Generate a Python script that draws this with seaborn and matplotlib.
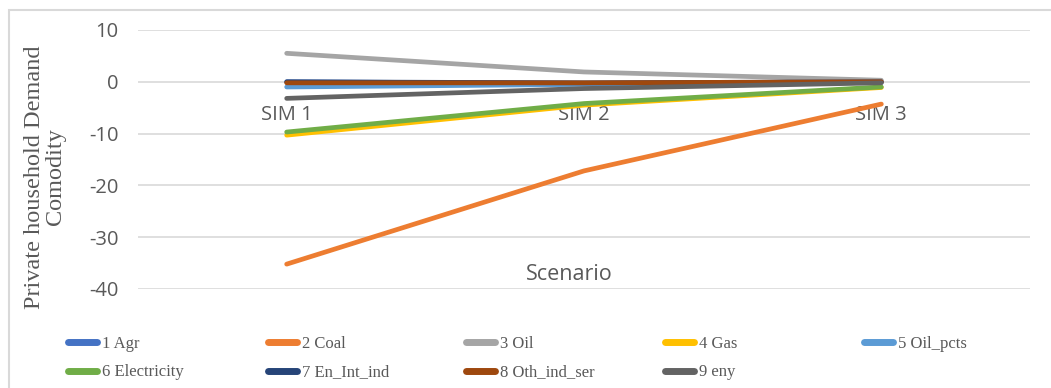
import matplotlib
matplotlib.use("Agg")
import matplotlib.pyplot as plt
from matplotlib.patches import Rectangle
import seaborn as sns
import pandas as pd

scenarios = ["SIM 1", "SIM 2", "SIM 3"]
sectors = ["1 Agr", "2 Coal", "3 Oil", "4 Gas", "5 Oil_pcts",
           "6 Electricity", "7 En_Int_ind", "8 Oth_ind_ser", "9 eny"]
agr = [0.0, -0.3, 0.0]
coal = [-35.2, -17.2, -4.3]
oil = [5.5, 1.9, 0.3]
gas = [-10.3, -4.5, -1.1]
oil_pcts = [-1.0, -0.5, -0.1]
electricity = [-9.7, -4.2, -1.0]
en_int_ind = [0.0, -0.2, 0.0]
oth_ind_ser = [-0.2, -0.2, 0.0]
eny = [-3.2, -1.3, -0.2]
values = [agr, coal, oil, gas, oil_pcts, electricity, en_int_ind, oth_ind_ser, eny]
colors = ["#4472C4", "#ED7D31", "#A5A5A5", "#FFC000", "#5B9BD5",
          "#70AD47", "#264478", "#9E480E", "#636363"]

df = pd.DataFrame(
    [(s, sc, v) for s, vals in zip(sectors, values) for sc, v in zip(scenarios, vals)],
    columns=["sector", "scenario", "value"],
)

sns.set_style("white")
plt.rcParams["axes.unicode_minus"] = False
fig = plt.figure(figsize=(10.51, 3.88), dpi=100)
ax = fig.add_axes([138 / 1051, 1 - 289 / 388, (1030 - 138) / 1051, (289 - 30) / 388])

sns.lineplot(data=df, x="scenario", y="value", hue="sector", hue_order=sectors,
             palette=colors, linewidth=3.4, sort=False, ax=ax, legend=True)

ax.set_xlim(-0.5, 2.5)
ax.set_ylim(-40, 10)
ax.set_yticks(range(-40, 11, 10))
ax.yaxis.grid(True, color="#d9d9d9", linewidth=1.2)
ax.set_axisbelow(True)
for sp in ax.spines.values():
    sp.set_visible(False)
ax.spines["bottom"].set_position(("data", 0))
ax.tick_params(axis="both", length=0, labelcolor="#595959", labelsize=14.5)
ax.tick_params(axis="x", pad=17)
ax.tick_params(axis="y", pad=14)
for t in ax.get_xticklabels() + ax.get_yticklabels():
    t.set_family("Open Sans")
ax.set_xlabel("")
ax.set_ylabel("")

ax.text(0.95, -39.2, "Scenario", ha="center", va="bottom", fontsize=15.5,
        color="#595959", family="Open Sans")
fig.text(45 / 1051, 1 - 177 / 388, "Private household Demand\nComodity",
         rotation=90, ha="center", va="center", fontsize=17.5,
         color="#595959", family="Liberation Serif", linespacing=1.0)

handles, labels = ax.get_legend_handles_labels()
ax.get_legend().remove()
col_x = [68, 268, 466, 665, 864]
for j, x in enumerate(col_x):
    idx = [j, j + 5] if j + 5 < len(handles) else [j]
    leg = fig.legend([handles[i] for i in idx], [labels[i] for i in idx],
                     loc="upper left", bbox_to_anchor=(x / 1051, 1 - 336 / 388),
                     frameon=False, handlelength=1.75, handletextpad=0.3,
                     labelspacing=0.75, borderaxespad=0, borderpad=0,
                     prop={"family": "Liberation Serif", "size": 12})
    for lh in leg.get_lines():
        lh.set_linewidth(5)
        lh.set_solid_capstyle("round")
    for t in leg.get_texts():
        t.set_color("#595959")

fig.patches.append(Rectangle((9 / 1051, -0.1), 1.2, 1 - 10 / 388 + 0.1,
                             transform=fig.transFigure, fill=False,
                             edgecolor="#d9d9d9", linewidth=1.5))

fig.savefig("out.png", dpi=100)
